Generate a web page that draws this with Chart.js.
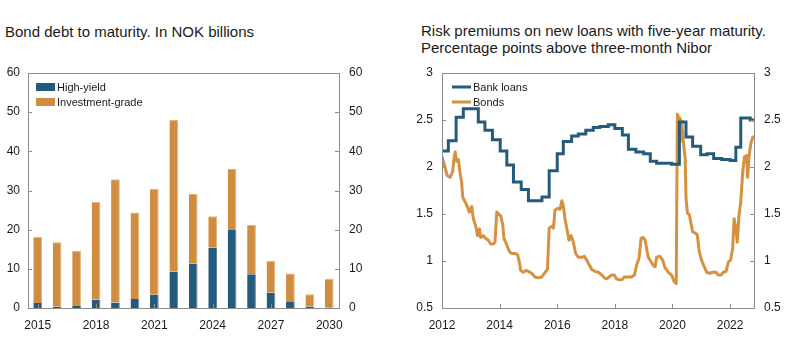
<!DOCTYPE html>
<html>
<head>
<meta charset="utf-8">
<script src="https://cdn.jsdelivr.net/npm/chart.js@4/dist/chart.umd.min.js"></script>
<style>
  body { margin: 0; background: #fff; width: 797px; height: 339px; position: relative; overflow: hidden; font-family: "Liberation Sans", Arial, sans-serif; color: #1a1a1a; }
  .title { position: absolute; font-size: 15px; line-height: 16.6px; white-space: nowrap; }
  canvas { position: absolute; }
</style>
</head>
<body>
<div class="title" style="left:5px; top:24px;">Bond debt to maturity. In NOK billions</div>
<div class="title" style="left:421px; top:23px;">Risk premiums on new loans with five-year maturity.<br>Percentage points above three-month Nibor</div>
<canvas id="bondChart" width="379" height="279" style="left:0; top:60px;"></canvas>
<canvas id="premiumChart" width="397" height="279" style="left:400px; top:60px;"></canvas>
<script>
// --- Left chart: bond debt to maturity ---
const maturityYears = ['2015','2016','2017','2018','2019','2020','2021','2022','2023','2024','2025','2026','2027','2028','2029','2030'];
const highYield = [1.3, 0.3, 0.5, 2.1, 1.4, 2.3, 3.4, 9.3, 11.3, 15.4, 20.1, 8.6, 3.9, 1.7, 0.4, 0.1];
const investmentGrade = [16.9, 16.5, 14.1, 25.0, 31.5, 22.1, 27.0, 38.7, 17.8, 8.0, 15.4, 12.6, 8.15, 7.1, 3.1, 7.4];
const bondTicks = [0, 10, 20, 30, 40, 50, 60];

// --- Right chart: risk premiums ---
const bankYears = [2012.00, 2012.22, 2012.49, 2012.74, 2013.26, 2013.49, 2013.75, 2014.02, 2014.25, 2014.48, 2014.75, 2015.00, 2015.47, 2015.72, 2016.00, 2016.21, 2016.50, 2016.73, 2016.99, 2017.25, 2017.48, 2017.77, 2018.00, 2018.26, 2018.47, 2018.73, 2019.00, 2019.23, 2019.45, 2019.97, 2020.24, 2020.47, 2020.70, 2020.98, 2021.20, 2021.43, 2021.71, 2022.00, 2022.20, 2022.37, 2022.70, 2022.83];
const bankLoans = [2.17, 2.28, 2.53, 2.62, 2.48, 2.39, 2.29, 2.17, 2.02, 1.84, 1.76, 1.64, 1.68, 1.96, 2.14, 2.27, 2.33, 2.35, 2.39, 2.42, 2.43, 2.45, 2.41, 2.34, 2.19, 2.16, 2.14, 2.06, 2.04, 2.03, 2.48, 2.32, 2.22, 2.13, 2.14, 2.09, 2.08, 2.07, 2.21, 2.52, 2.50, 2.50];
const bondYears = [2012.00, 2012.10, 2012.18, 2012.28, 2012.37, 2012.42, 2012.46, 2012.51, 2012.57, 2012.62, 2012.68, 2012.72, 2012.80, 2012.88, 2012.95, 2013.03, 2013.09, 2013.18, 2013.23, 2013.30, 2013.34, 2013.43, 2013.52, 2013.61, 2013.69, 2013.78, 2013.84, 2013.90, 2013.96, 2014.04, 2014.11, 2014.15, 2014.25, 2014.34, 2014.42, 2014.53, 2014.62, 2014.69, 2014.73, 2014.82, 2014.92, 2015.00, 2015.11, 2015.23, 2015.34, 2015.46, 2015.58, 2015.66, 2015.72, 2015.81, 2015.87, 2015.92, 2016.02, 2016.10, 2016.16, 2016.21, 2016.27, 2016.33, 2016.41, 2016.48, 2016.56, 2016.64, 2016.73, 2016.85, 2016.94, 2017.02, 2017.11, 2017.20, 2017.31, 2017.43, 2017.55, 2017.64, 2017.72, 2017.80, 2017.89, 2017.98, 2018.06, 2018.15, 2018.24, 2018.33, 2018.41, 2018.49, 2018.58, 2018.68, 2018.76, 2018.84, 2018.91, 2018.99, 2019.05, 2019.16, 2019.26, 2019.34, 2019.40, 2019.45, 2019.57, 2019.66, 2019.74, 2019.86, 2019.97, 2020.06, 2020.13, 2020.17, 2020.23, 2020.26, 2020.32, 2020.38, 2020.44, 2020.47, 2020.52, 2020.59, 2020.63, 2020.70, 2020.78, 2020.86, 2020.93, 2021.01, 2021.10, 2021.19, 2021.28, 2021.40, 2021.51, 2021.59, 2021.68, 2021.77, 2021.86, 2021.94, 2022.02, 2022.09, 2022.14, 2022.20, 2022.25, 2022.31, 2022.37, 2022.44, 2022.50, 2022.58, 2022.61, 2022.66, 2022.72, 2022.79, 2022.83];
const bonds = [2.11, 2.00, 1.91, 1.89, 1.95, 2.10, 2.16, 2.06, 2.08, 1.95, 1.84, 1.68, 1.63, 1.58, 1.52, 1.58, 1.45, 1.36, 1.27, 1.34, 1.25, 1.27, 1.24, 1.22, 1.18, 1.18, 1.20, 1.52, 1.50, 1.48, 1.38, 1.24, 1.17, 1.10, 1.08, 1.08, 1.07, 0.98, 0.90, 0.88, 0.90, 0.89, 0.87, 0.83, 0.82, 0.83, 0.88, 0.91, 1.35, 1.37, 1.35, 1.54, 1.56, 1.55, 1.64, 1.59, 1.45, 1.35, 1.22, 1.27, 1.20, 1.08, 1.04, 1.04, 1.05, 1.01, 0.96, 0.91, 0.89, 0.88, 0.85, 0.82, 0.81, 0.83, 0.85, 0.85, 0.81, 0.80, 0.80, 0.83, 0.83, 0.83, 0.83, 0.85, 0.96, 1.03, 1.24, 1.25, 1.22, 1.04, 0.99, 0.95, 0.94, 1.04, 1.05, 1.01, 0.93, 0.88, 0.85, 0.78, 0.76, 2.56, 2.52, 2.27, 2.49, 2.26, 2.10, 1.67, 1.51, 1.49, 1.42, 1.31, 1.30, 1.28, 1.10, 1.01, 0.94, 0.88, 0.87, 0.88, 0.88, 0.85, 0.85, 0.88, 0.89, 0.99, 1.01, 1.14, 1.45, 1.35, 1.20, 1.49, 1.63, 1.95, 2.11, 2.12, 1.89, 2.12, 2.25, 2.32, 2.32];
const premiumXTicks = [2012, 2014, 2016, 2018, 2020, 2022];
const premiumYTicks = [0.5, 1, 1.5, 2, 2.5, 3];

const COLORS = {
    blue: '#245a7b',
    orange: '#d08c40',
    orangeLine: '#d5913f',
    orangeEdge: '#e6b47a',
    blueEdge: '#5f86a0',
    frame: '#8c8c8c',
    text: '#1a1a1a'
};

Chart.defaults.font.family = '"Liberation Sans", Arial, sans-serif';
Chart.defaults.font.size = 12;
Chart.defaults.color = COLORS.text;
Chart.defaults.animation = false;

// frame, inward tick marks and an in-plot legend
const framePlugin = {
    id: 'frame',
    afterDraw(chart, args, opts) {
        const ctx = chart.ctx;
        const a = chart.chartArea;
        ctx.save();
        ctx.strokeStyle = COLORS.frame;
        ctx.lineWidth = 1;
        ctx.strokeRect(Math.round(a.left) + 0.5, Math.round(a.top) + 0.5, Math.round(a.right - a.left), Math.round(a.bottom - a.top));
        ctx.beginPath();
        ['y', 'y2'].forEach(id => {
            const s = chart.scales[id];
            const left = id === 'y';
            s.ticks.forEach((t, i) => {
                const py = Math.round(s.getPixelForTick(i)) + 0.5;
                const px = left ? a.left : a.right;
                ctx.moveTo(px, py);
                ctx.lineTo(left ? px + 4 : px - 4, py);
            });
        });
        const sx = chart.scales.x;
        sx.ticks.forEach((t, i) => {
            if (opts.everyNth && i % opts.everyNth !== 0) return;
            const px = Math.round(sx.getPixelForTick(i)) + 0.5;
            ctx.moveTo(px, a.bottom);
            ctx.lineTo(px, a.bottom - 4);
        });
        ctx.stroke();

        // legend
        chart.data.datasets.forEach((ds, i) => {
            const cy = a.top + 14 + i * 15;
            const x0 = a.left + opts.legendX;
            if (opts.legendType === 'box') {
                ctx.fillStyle = ds.backgroundColor;
                ctx.fillRect(x0, cy - 4, 19, 8);
            } else {
                ctx.strokeStyle = ds.borderColor;
                ctx.lineWidth = 3;
                ctx.beginPath();
                ctx.moveTo(x0, cy);
                ctx.lineTo(x0 + 19, cy);
                ctx.stroke();
            }
            ctx.fillStyle = COLORS.text;
            ctx.font = '11px "Liberation Sans", Arial, sans-serif';
            ctx.textBaseline = 'middle';
            ctx.fillText(ds.label, x0 + 21, cy + 0.5);
        });
        ctx.restore();
    }
};

// fixed axis boxes so the plot areas land where the reference has them
function fixWidth(w) {
    return scale => { scale.width = w; scale.paddingTop = 0; scale.paddingBottom = 0; };
}
function fixHeight(h) {
    return scale => { scale.height = h; scale.paddingLeft = 0; scale.paddingRight = 0; };
}
const noGrid = { display: false, drawTicks: false };
const plain = v => String(v);

const bondCtx = document.getElementById('bondChart');
new Chart(bondCtx, {
    type: 'bar',
    data: {
        labels: maturityYears,
        datasets: [
            { label: 'High-yield', data: highYield, backgroundColor: COLORS.blue, borderColor: COLORS.blueEdge, borderWidth: { top: 0, right: 1, bottom: 0, left: 0 }, borderSkipped: false },
            { label: 'Investment-grade', data: investmentGrade, backgroundColor: COLORS.orange, borderColor: COLORS.orangeEdge, borderWidth: { top: 1, right: 1, bottom: 0, left: 0 }, borderSkipped: false }
        ]
    },
    options: {
        responsive: false,
        devicePixelRatio: 1,
        layout: { padding: { top: 13, left: 0, right: 0, bottom: 0 } },
        datasets: { bar: { categoryPercentage: 1, barPercentage: 0.45 } },
        plugins: {
            legend: { display: false },
            tooltip: { enabled: false },
            frame: { legendType: 'box', legendX: 8, everyNth: 3 }
        },
        scales: {
            x: {
                stacked: true,
                grid: noGrid,
                border: { display: false },
                ticks: { autoSkip: false, maxRotation: 0, padding: 10, callback: (v, i) => i % 3 === 0 ? maturityYears[i] : '' },
                afterFit: fixHeight(31)
            },
            y: {
                stacked: true, min: 0, max: 60,
                grid: noGrid,
                border: { display: false },
                ticks: { padding: 8, callback: plain },
                afterBuildTicks: s => { s.ticks = bondTicks.map(v => ({ value: v })); },
                afterFit: fixWidth(28)
            },
            y2: {
                position: 'right', min: 0, max: 60,
                grid: noGrid,
                border: { display: false },
                ticks: { padding: 10, callback: plain },
                afterBuildTicks: s => { s.ticks = bondTicks.map(v => ({ value: v })); },
                afterFit: fixWidth(40)
            }
        }
    },
    plugins: [framePlugin]
});

const premiumCtx = document.getElementById('premiumChart');
new Chart(premiumCtx, {
    type: 'line',
    data: {
        datasets: [
            { label: 'Bank loans', data: bankYears.map((x, i) => ({ x, y: bankLoans[i] })), borderColor: COLORS.blue, borderWidth: 3, stepped: true, pointRadius: 0 },
            { label: 'Bonds', data: bondYears.map((x, i) => ({ x, y: bonds[i] })), borderColor: COLORS.orangeLine, borderWidth: 3, tension: 0, pointRadius: 0, borderJoinStyle: 'round' }
        ]
    },
    options: {
        responsive: false,
        devicePixelRatio: 1,
        layout: { padding: { top: 13, left: 0, right: 0, bottom: 0 } },
        plugins: {
            legend: { display: false },
            tooltip: { enabled: false },
            frame: { legendType: 'line', legendX: 10 }
        },
        scales: {
            x: {
                type: 'linear', min: 2012, max: 2022.83,
                grid: noGrid,
                border: { display: false },
                ticks: { maxRotation: 0, padding: 10, callback: plain },
                afterBuildTicks: s => { s.ticks = premiumXTicks.map(v => ({ value: v })); },
                afterFit: fixHeight(31)
            },
            y: {
                min: 0.5, max: 3,
                grid: noGrid,
                border: { display: false },
                ticks: { padding: 9, callback: plain },
                afterBuildTicks: s => { s.ticks = premiumYTicks.map(v => ({ value: v })); },
                afterFit: fixWidth(42)
            },
            y2: {
                position: 'right', min: 0.5, max: 3,
                grid: noGrid,
                border: { display: false },
                ticks: { padding: 10, callback: plain },
                afterBuildTicks: s => { s.ticks = premiumYTicks.map(v => ({ value: v })); },
                afterFit: fixWidth(43)
            }
        }
    },
    plugins: [framePlugin]
});
</script>
</body>
</html>
